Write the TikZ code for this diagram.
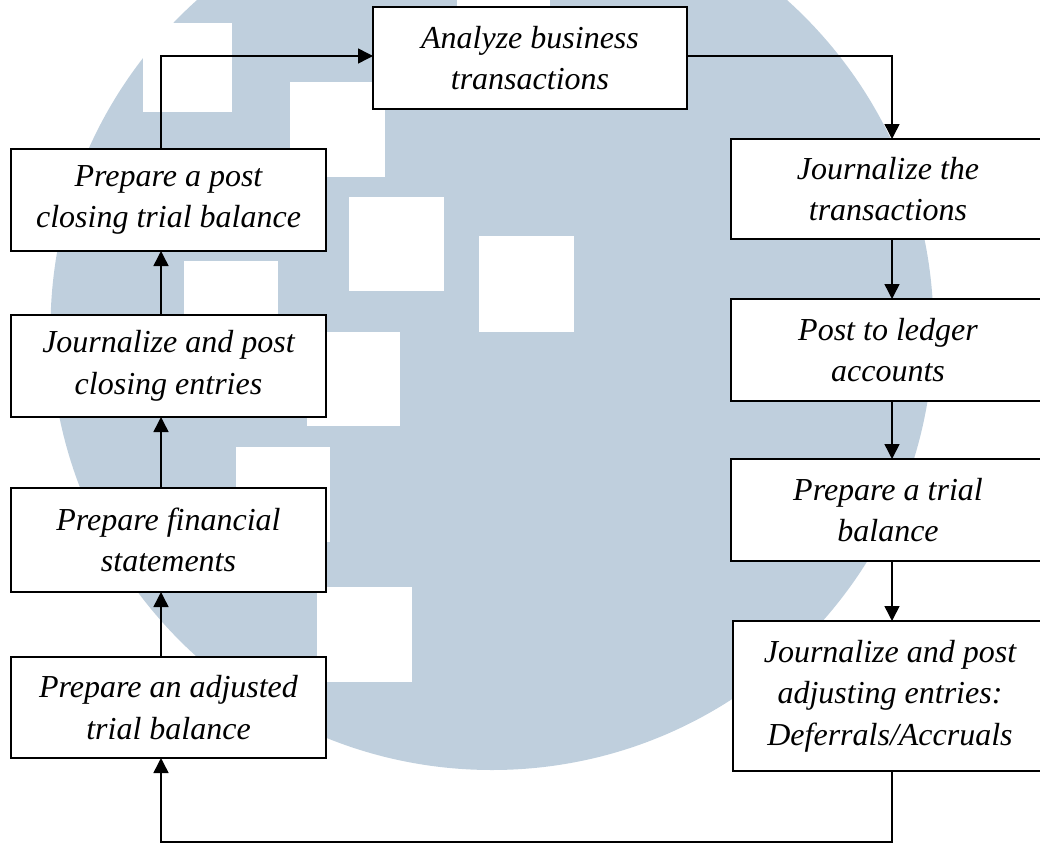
\documentclass[tikz,border=0pt]{standalone}
\usepackage{fontspec}
\setmainfont{Liberation Serif}
\usetikzlibrary{arrows.meta}
\definecolor{wmblue}{RGB}{191,207,221}
\begin{document}
\begin{tikzpicture}[x=1pt,y=-1pt,
  box/.style={draw, line width=1.7pt, fill=white, inner sep=0pt, outer sep=0pt,
    align=center, font=\fontsize{32}{41.5}\selectfont\itshape},
  conn/.style={line width=1.5pt, -{Triangle[length=15pt,width=15pt]}},
  sq/.style={fill=white}]
\useasboundingbox (0,0) rectangle (1040,843);
\begin{scope}
  \clip (0,0) rectangle (1040,843);
  \fill[wmblue] (492,328.5) circle[radius=441.5];
  \fill[sq] (143,23) rectangle (232,112);
  \fill[sq] (290,82) rectangle (385,177);
  \fill[sq] (349,197) rectangle (444,291);
  \fill[sq] (479,236) rectangle (574,332);
  \fill[sq] (184,261) rectangle (278,356);
  \fill[sq] (307,332) rectangle (400,426);
  \fill[sq] (236,447) rectangle (330,542);
  \fill[sq] (317,587) rectangle (412,682);
  \fill[sq] (457,-85) rectangle (550,12);
\end{scope}
% right column
\node[box, minimum width=314pt, minimum height=102pt] (an) at (530,58) {Analyze business\\transactions};
\node[box, minimum width=314pt, minimum height=100pt] (j1) at (888,189) {Journalize the\\transactions};
\node[box, minimum width=314pt, minimum height=102pt] (j2) at (888,350) {Post to ledger\\accounts};
\node[box, minimum width=314pt, minimum height=102pt] (j3) at (888,510) {Prepare a trial\\balance};
\node[box, minimum width=314pt, minimum height=150pt] (j4) at (890,696) {Journalize and post\\adjusting entries:\\Deferrals/Accruals};
% left column
\node[box, minimum width=315pt, minimum height=102pt] (l1) at (168.5,200) {Prepare a post\\closing trial balance};
\node[box, minimum width=315pt, minimum height=102pt] (l2) at (168.5,366) {Journalize and post\\closing entries};
\node[box, minimum width=315pt, minimum height=104pt] (l3) at (168.5,540) {Prepare financial\\statements};
\node[box, minimum width=315pt, minimum height=101pt] (l4) at (168.5,707.5) {Prepare an adjusted\\trial balance};
% connector corner points
\coordinate (lt) at (161,56);
\coordinate (rt) at (892,56);
\coordinate (rb) at (892,842);
\coordinate (lb) at (161,842);
% connectors
\draw[conn] (l1.north -| lt) -- (lt) -- (an.west |- lt);
\draw[conn] (an.east |- rt) -- (rt) -- (j1.north -| rt);
\draw[conn] (j1.south -| rt) -- (j2.north -| rt);
\draw[conn] (j2.south -| rt) -- (j3.north -| rt);
\draw[conn] (j3.south -| rt) -- (j4.north -| rt);
\draw[conn] (j4.south -| rt) -- (rb) -- (lb) -- (l4.south -| lb);
\draw[conn] (l4.north -| lt) -- (l3.south -| lt);
\draw[conn] (l3.north -| lt) -- (l2.south -| lt);
\draw[conn] (l2.north -| lt) -- (l1.south -| lt);
\end{tikzpicture}
\end{document}
